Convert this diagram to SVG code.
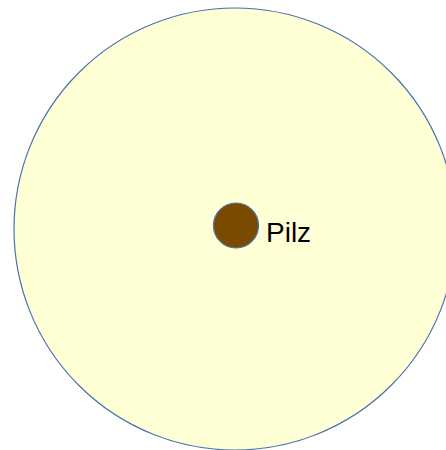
<svg xmlns="http://www.w3.org/2000/svg" width="446" height="450" viewBox="0 0 446 450">
<style>
.area{fill:#ffffd6;stroke:#4a72b0;stroke-width:1.2}
.node{fill:#7a4a00;stroke:#4a72b0;stroke-width:1.2}
.lbl{font-family:"Liberation Sans",Arial,sans-serif;font-size:28px;fill:#000}
</style>
<rect width="446" height="450" fill="#fff"/>
<g id="area"><circle class="area" cx="235" cy="229" r="221"/></g>
<g id="pilz"><circle class="node" cx="236" cy="225.5" r="22.5"/><text class="lbl" x="266" y="242">Pilz</text></g>
<g id="connectors"></g>
</svg>
